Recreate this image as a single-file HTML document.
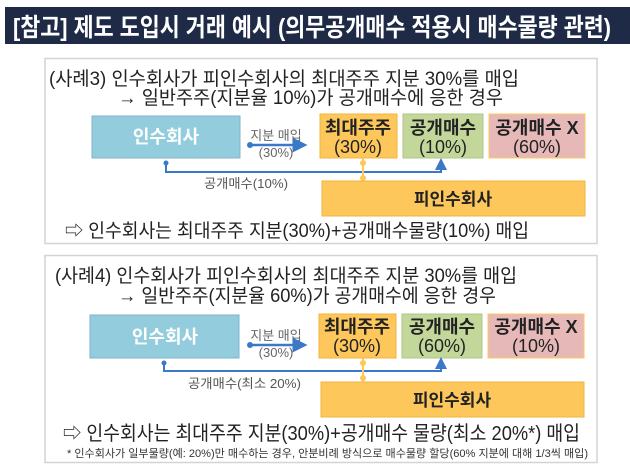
<!DOCTYPE html>
<html><head><meta charset="utf-8"><style>
html,body{margin:0;padding:0;background:#fff;}
svg{display:block;}
text{font-family:"Liberation Sans","Noto Sans CJK KR","NanumGothic",sans-serif;}
</style></head><body>
<svg width="630" height="470" viewBox="0 0 630 470">
<defs>
<marker id="ah" markerWidth="6" markerHeight="6" refX="3" refY="3" orient="auto"><path d="M0,0 L6,3 L0,6 Z" fill="#3b78c8"/></marker>
</defs>
<rect x="5" y="7" width="625" height="37" fill="#1f2a47"/>
<text x="13" y="36" font-size="25" font-weight="bold" fill="#fff" textLength="598" lengthAdjust="spacingAndGlyphs">[참고] 제도 도입시 거래 예시 (의무공개매수 적용시 매수물량 관련)</text>

<!-- Panel 1 -->
<g>
<rect x="45" y="58.5" width="552" height="185" fill="#fff" stroke="#d4d4d4" stroke-width="1.5"/>
<text x="49" y="85" font-size="19" fill="#222" textLength="470" lengthAdjust="spacingAndGlyphs">(사례3) 인수회사가 피인수회사의 최대주주 지분 30%를 매입</text>
<text x="118" y="104" font-size="19" fill="#222" textLength="385" lengthAdjust="spacingAndGlyphs">→ 일반주주(지분율 10%)가 공개매수에 응한 경우</text>
<rect x="92" y="116" width="148" height="42" fill="#93cddd" stroke="#7fb4c9"/>
<text x="166" y="143" font-size="18" font-weight="bold" fill="#fff" text-anchor="middle">인수회사</text>
<text x="276" y="140" font-size="13" fill="#666" text-anchor="middle">지분 매입</text>
<text x="276" y="157" font-size="13" fill="#666" text-anchor="middle">(30%)</text>
<line x1="250" y1="145" x2="300" y2="145" stroke="#3b78c8" stroke-width="2.5" marker-end="url(#ah)"/>
<circle cx="250" cy="145" r="3" fill="#3b78c8"/>
<rect x="320" y="114" width="77" height="44" fill="#fdc75b" stroke="#f0b43c"/>
<text x="358" y="134" font-size="18" font-weight="bold" fill="#222" text-anchor="middle">최대주주</text>
<text x="358" y="153" font-size="18" fill="#222" text-anchor="middle">(30%)</text>
<rect x="403" y="114" width="80" height="44" fill="#c4d79b" stroke="#b0c585"/>
<text x="443" y="134" font-size="18" font-weight="bold" fill="#222" text-anchor="middle">공개매수</text>
<text x="443" y="153" font-size="18" fill="#222" text-anchor="middle">(10%)</text>
<rect x="489" y="114" width="96" height="44" fill="#e6b9b8" stroke="#fdc75b"/>
<text x="537" y="134" font-size="18" font-weight="bold" fill="#222" text-anchor="middle">공개매수 X</text>
<text x="537" y="153" font-size="18" fill="#222" text-anchor="middle">(60%)</text>
<polyline points="166,163 166,172 441,172 441,164" fill="none" stroke="#3b78c8" stroke-width="2" marker-end="url(#ah)"/>
<circle cx="166" cy="163" r="2.5" fill="#3b78c8"/>
<line x1="363" y1="158" x2="363" y2="182" stroke="#fdc75b" stroke-width="2"/>
<circle cx="363" cy="163" r="3" fill="#fdc75b"/><circle cx="363" cy="178" r="3" fill="#fdc75b"/>
<text x="246" y="188" font-size="13" fill="#555" text-anchor="middle" textLength="84" lengthAdjust="spacingAndGlyphs">공개매수(10%)</text>
<rect x="322" y="181" width="263" height="35" fill="#fdc75b" stroke="#f0b43c"/>
<text x="453" y="205" font-size="17" font-weight="bold" fill="#222" text-anchor="middle">피인수회사</text>
<text x="65" y="237" font-size="19" fill="#222" textLength="464" lengthAdjust="spacingAndGlyphs">⇨ 인수회사는 최대주주 지분(30%)+공개매수물량(10%) 매입</text>
</g>

<!-- Panel 2 -->
<g>
<rect x="45" y="255.5" width="552" height="207" fill="#fff" stroke="#d4d4d4" stroke-width="1.5"/>
<text x="55" y="282" font-size="19" fill="#222" textLength="462" lengthAdjust="spacingAndGlyphs">(사례4) 인수회사가 피인수회사의 최대주주 지분 30%를 매입</text>
<text x="118" y="302" font-size="19" fill="#222" textLength="378" lengthAdjust="spacingAndGlyphs">→ 일반주주(지분율 60%)가 공개매수에 응한 경우</text>
<rect x="90" y="315" width="149" height="43" fill="#93cddd" stroke="#7fb4c9"/>
<text x="165" y="343" font-size="18" font-weight="bold" fill="#fff" text-anchor="middle">인수회사</text>
<text x="276" y="340" font-size="13" fill="#666" text-anchor="middle">지분 매입</text>
<text x="276" y="357" font-size="13" fill="#666" text-anchor="middle">(30%)</text>
<line x1="250" y1="345" x2="300" y2="345" stroke="#3b78c8" stroke-width="2.5" marker-end="url(#ah)"/>
<circle cx="250" cy="345" r="3" fill="#3b78c8"/>
<rect x="319" y="314" width="77" height="44" fill="#fdc75b" stroke="#f0b43c"/>
<text x="357" y="333" font-size="18" font-weight="bold" fill="#222" text-anchor="middle">최대주주</text>
<text x="357" y="352" font-size="18" fill="#222" text-anchor="middle">(30%)</text>
<rect x="402" y="314" width="80" height="44" fill="#c4d79b" stroke="#b0c585"/>
<text x="442" y="333" font-size="18" font-weight="bold" fill="#222" text-anchor="middle">공개매수</text>
<text x="442" y="352" font-size="18" fill="#222" text-anchor="middle">(60%)</text>
<rect x="488" y="314" width="96" height="44" fill="#e6b9b8" stroke="#fdc75b"/>
<text x="536" y="333" font-size="18" font-weight="bold" fill="#222" text-anchor="middle">공개매수 X</text>
<text x="536" y="352" font-size="18" fill="#222" text-anchor="middle">(10%)</text>
<polyline points="164,363 164,371 441,371 441,363" fill="none" stroke="#3b78c8" stroke-width="2" marker-end="url(#ah)"/>
<circle cx="164" cy="363" r="2.5" fill="#3b78c8"/>
<line x1="363" y1="358" x2="363" y2="382" stroke="#fdc75b" stroke-width="2"/>
<circle cx="363" cy="363" r="3" fill="#fdc75b"/><circle cx="363" cy="378" r="3" fill="#fdc75b"/>
<text x="188" y="388" font-size="13" fill="#555" textLength="113" lengthAdjust="spacingAndGlyphs">공개매수(최소 20%)</text>
<rect x="321" y="382" width="263" height="35" fill="#fdc75b" stroke="#f0b43c"/>
<text x="452" y="406" font-size="17" font-weight="bold" fill="#222" text-anchor="middle">피인수회사</text>
<text x="63" y="440" font-size="20" fill="#222" textLength="517" lengthAdjust="spacingAndGlyphs">⇨ 인수회사는 최대주주 지분(30%)+공개매수 물량(최소 20%*) 매입</text>
<text x="67" y="457" font-size="11" fill="#333" textLength="521" lengthAdjust="spacingAndGlyphs">* 인수회사가 일부물량(예: 20%)만 매수하는 경우, 안분비례 방식으로 매수물량 할당(60% 지분에 대해 1/3씩 매입)</text>
</g>
</svg>
</body></html>
